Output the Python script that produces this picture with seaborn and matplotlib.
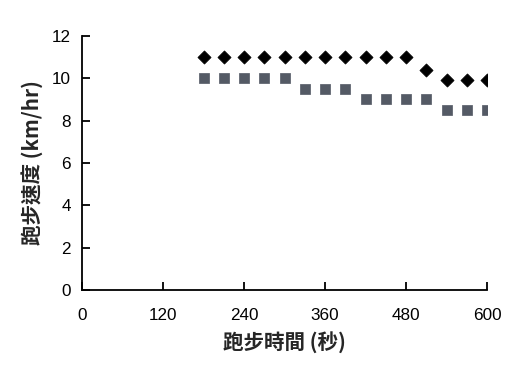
import matplotlib
matplotlib.use("Agg")
import matplotlib.pyplot as plt
import seaborn as sns
import pandas as pd

time_s = [180, 210, 240, 270, 300, 330, 360, 390, 420, 450, 480, 510, 540, 570, 600]
speed_diamond = [11, 11, 11, 11, 11, 11, 11, 11, 11, 11, 11, 10.4, 9.9, 9.9, 9.9]
speed_square = [10, 10, 10, 10, 10, 9.5, 9.5, 9.5, 9, 9, 9, 9, 8.5, 8.5, 8.5]
x_ticks = [0, 120, 240, 360, 480, 600]
y_ticks = [0, 2, 4, 6, 8, 10, 12]

sns.set_theme(style="ticks")
plt.rcParams['font.family'] = ['Liberation Sans', 'Noto Sans CJK TC', 'DejaVu Sans']

df = pd.DataFrame({"t": time_s, "a": speed_diamond, "b": speed_square})

fig = plt.figure(figsize=(5.3, 3.69), dpi=100)
ax = fig.add_axes([0.155, 0.214, 0.764, 0.689])

sns.scatterplot(data=df, x="t", y="b", marker="s", s=52, color="#545a65",
                edgecolor="#545a65", linewidth=0.5, ax=ax, zorder=3)
sns.scatterplot(data=df, x="t", y="a", marker="D", s=45, color="black",
                edgecolor="black", linewidth=0.5, ax=ax, zorder=4)

ax.set_xlim(0, 600)
ax.set_ylim(0, 12)
ax.set_xticks(x_ticks)
ax.set_yticks(y_ticks)
ax.tick_params(direction="in", length=6, width=1.3, labelsize=12.3, colors="black", pad=8)
ax.tick_params(axis="x", pad=13)
for s in ["top", "right"]:
    ax.spines[s].set_visible(False)
for s in ["left", "bottom"]:
    ax.spines[s].set_linewidth(1.3)
    ax.spines[s].set_color("black")

ax.set_xlabel("跑步時間 (秒)", fontsize=14.8, fontweight="bold",
              family=['Noto Sans CJK TC', 'DejaVu Sans'], labelpad=6)
ax.set_ylabel("跑步速度 (km/hr)", fontsize=14.8, fontweight="bold",
              family=['Noto Sans CJK TC', 'DejaVu Sans'], labelpad=6)

fig.savefig("out.png", dpi=100)
